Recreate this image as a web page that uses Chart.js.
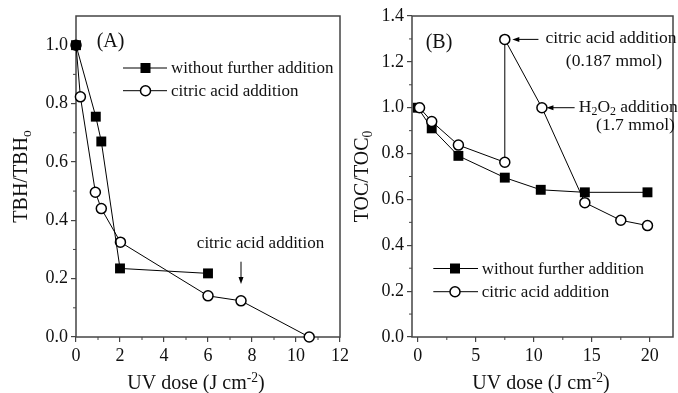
<!DOCTYPE html>
<html>
<head>
<meta charset="utf-8">
<script src="https://cdn.jsdelivr.net/npm/chart.js@4"></script>
<style>
  html, body { margin: 0; padding: 0; background: #fff; }
  #wrap { position: relative; width: 678px; height: 393px; overflow: hidden; background: #fff; }
  canvas { position: absolute; top: 0; }
  #chartA { left: 0; }
  #chartB { left: 340px; }
</style>
</head>
<body>
<div id="wrap">
  <canvas id="chartA" width="360" height="393"></canvas>
  <canvas id="chartB" width="340" height="393"></canvas>
</div>
<script>
// ---- data, panel A (TBH) ----
const seriesNames = ['without further addition', 'citric acid addition'];
const doseA_without = [0, 0.9, 1.15, 2.0, 6.0];
const tbh_without = [1.0, 0.755, 0.67, 0.235, 0.218];
const doseA_citric = [0, 0.2, 0.88, 1.15, 2.02, 6.0, 7.5, 10.6];
const tbh_citric = [1.0, 0.823, 0.496, 0.44, 0.325, 0.141, 0.124, 0.0];
const xTicksA = [0, 2, 4, 6, 8, 10, 12];
const yTicksA = [0.0, 0.2, 0.4, 0.6, 0.8, 1.0];

// ---- data, panel B (TOC) ----
const doseB_without = [0, 1.2, 3.5, 7.5, 10.6, 14.4, 19.8];
const toc_without = [1.0, 0.91, 0.79, 0.695, 0.642, 0.631, 0.631];
const doseB_citric = [0.15, 1.2, 3.5, 7.5, 7.5, 10.7, 14.4, 17.5, 19.8];
const toc_citric = [1.0, 0.94, 0.837, 0.762, 1.298, 1.0, 0.586, 0.509, 0.486];
const xTicksB = [0, 5, 10, 15, 20];
const yTicksB = [0.0, 0.2, 0.4, 0.6, 0.8, 1.0, 1.2, 1.4];

const FONT = "'Liberation Serif', 'Times New Roman', serif";
const INK = '#111';
const AXIS = '#444';

function pts(xs, ys) { return xs.map((x, i) => ({x: x, y: ys[i]})); }

// draw text made of normal / subscript / superscript pieces
function drawRich(ctx, parts, x, y, size, align) {
  let w = 0;
  parts.forEach(p => {
    ctx.font = ((p.sub || p.sup) ? size * 0.68 : size) + 'px ' + FONT;
    w += ctx.measureText(p.t).width;
  });
  let cx = align === 'center' ? x - w / 2 : x;
  ctx.textAlign = 'left';
  parts.forEach(p => {
    const s = (p.sub || p.sup) ? size * 0.68 : size;
    ctx.font = s + 'px ' + FONT;
    const dy = p.sub ? size * 0.22 : (p.sup ? -size * 0.36 : 0);
    ctx.fillText(p.t, cx, y + dy);
    cx += ctx.measureText(p.t).width;
  });
}

function marker(ctx, style, x, y) {
  ctx.beginPath();
  if (style === 'rect') {
    ctx.fillStyle = '#000';
    ctx.fillRect(x - 5, y - 5, 10, 10);
  } else {
    ctx.arc(x, y, 5, 0, Math.PI * 2);
    ctx.fillStyle = '#fff';
    ctx.fill();
    ctx.lineWidth = 1.5;
    ctx.strokeStyle = '#000';
    ctx.stroke();
  }
}

function arrow(ctx, x1, y1, x2, y2) {
  const ang = Math.atan2(y2 - y1, x2 - x1);
  ctx.beginPath();
  ctx.moveTo(x1, y1);
  ctx.lineTo(x2 - 5 * Math.cos(ang), y2 - 5 * Math.sin(ang));
  ctx.lineWidth = 1;
  ctx.strokeStyle = '#000';
  ctx.stroke();
  ctx.beginPath();
  ctx.moveTo(x2, y2);
  ctx.lineTo(x2 - 7 * Math.cos(ang) + 2.5 * Math.sin(ang), y2 - 7 * Math.sin(ang) - 2.5 * Math.cos(ang));
  ctx.lineTo(x2 - 7 * Math.cos(ang) - 2.5 * Math.sin(ang), y2 - 7 * Math.sin(ang) + 2.5 * Math.cos(ang));
  ctx.closePath();
  ctx.fillStyle = '#000';
  ctx.fill();
}

// frame, minor ticks and axis titles
const framePlugin = {
  id: 'frame',
  beforeDatasetsDraw(chart, args, o) {
    const {ctx, chartArea: a, scales: {x, y}} = chart;
    ctx.save();
    ctx.strokeStyle = AXIS;
    ctx.lineWidth = 1.5;
    ctx.strokeRect(a.left, a.top, a.right - a.left, a.bottom - a.top);
    ctx.lineWidth = 1;
    ctx.beginPath();
    o.minorX.forEach(v => { const p = x.getPixelForValue(v); ctx.moveTo(p, a.bottom); ctx.lineTo(p, a.bottom + 3); });
    o.minorY.forEach(v => { const p = y.getPixelForValue(v); ctx.moveTo(a.left, p); ctx.lineTo(a.left - 3, p); });
    ctx.stroke();
    ctx.fillStyle = INK;
    ctx.textBaseline = 'alphabetic';
    drawRich(ctx, o.xTitle, o.xTitleX, o.xTitleY, 20, 'center');
    ctx.translate(o.yTitleX, (a.top + a.bottom) / 2);
    ctx.rotate(-Math.PI / 2);
    drawRich(ctx, o.yTitle, 0, 0, 20, 'center');
    ctx.restore();
  },
  afterDraw(chart, args, o) {
    const {ctx, scales: {x, y}} = chart;
    ctx.save();
    // legend
    const L = o.legend;
    chart.data.datasets.forEach((ds, i) => {
      const ry = L.rows[i];
      ctx.beginPath();
      ctx.moveTo(L.x0, ry); ctx.lineTo(L.x1, ry);
      ctx.lineWidth = 1; ctx.strokeStyle = '#000'; ctx.stroke();
      marker(ctx, ds.pointStyle, L.xm, ry);
      ctx.fillStyle = INK;
      ctx.textBaseline = 'middle';
      ctx.textAlign = 'left';
      ctx.font = '17px ' + FONT;
      ctx.fillText(ds.label, L.xt, ry + 1);
    });
    // notes and arrows
    o.notes.forEach(n => {
      if (n.arrow) {
        arrow(ctx, x.getPixelForValue(n.arrow[0]), y.getPixelForValue(n.arrow[1]),
              x.getPixelForValue(n.arrow[2]), y.getPixelForValue(n.arrow[3]));
      } else {
        ctx.fillStyle = INK;
        ctx.textBaseline = 'middle';
        drawRich(ctx, n.parts, x.getPixelForValue(n.x), y.getPixelForValue(n.y), n.size, n.align);
      }
    });
    ctx.restore();
  }
};

function makeChart(id, xs1, ys1, xs2, ys2, opt) {
  const tickFont = {family: FONT, size: 18};
  return new Chart(document.getElementById(id), {
    type: 'line',
    data: {
      datasets: [
        {label: seriesNames[0], data: pts(xs1, ys1), order: opt.orderSq,
         borderColor: '#000', borderWidth: 1, pointStyle: 'rect', pointRadius: 7,
         pointBackgroundColor: '#000', pointBorderColor: '#000', pointBorderWidth: 0, clip: false},
        {label: seriesNames[1], data: pts(xs2, ys2), order: opt.orderCi,
         borderColor: '#000', borderWidth: 1, pointStyle: 'circle', pointRadius: 5,
         pointBackgroundColor: '#fff', pointBorderColor: '#000', pointBorderWidth: 1.5, clip: false}
      ]
    },
    options: {
      responsive: false,
      animation: false,
      events: [],
      layout: {padding: opt.padding},
      scales: {
        x: {
          type: 'linear', min: opt.xMin, max: opt.xMax,
          afterBuildTicks: s => { s.ticks = opt.xTicks.map(v => ({value: v})); },
          afterFit: s => { s.height = 56; },
          grid: {display: true, drawOnChartArea: false, drawTicks: true, tickLength: 5, color: AXIS, lineWidth: 1.2},
          border: {display: false},
          ticks: {font: tickFont, color: INK, padding: 3, maxRotation: 0, autoSkip: false}
        },
        y: {
          type: 'linear', min: 0, max: opt.yMax,
          afterBuildTicks: s => { s.ticks = opt.yTicks.map(v => ({value: v})); },
          afterFit: s => { s.width = opt.yWidth; },
          grid: {display: true, drawOnChartArea: false, drawTicks: true, tickLength: 5, color: AXIS, lineWidth: 1.2},
          border: {display: false},
          ticks: {font: tickFont, color: INK, padding: 3, callback: v => v.toFixed(1)}
        }
      },
      plugins: {
        legend: {display: false},
        tooltip: {enabled: false},
        frame: opt.frame
      }
    },
    plugins: [framePlugin]
  });
}

makeChart('chartA', doseA_without, tbh_without, doseA_citric, tbh_citric, {
  orderSq: 0, orderCi: 1,
  padding: {top: 16, right: 20, left: 0, bottom: 0},
  xMin: 0, xMax: 12, xTicks: xTicksA, yMax: 1.1, yTicks: yTicksA, yWidth: 76,
  frame: {
    minorX: [1, 3, 5, 7, 9, 11],
    minorY: [0.1, 0.3, 0.5, 0.7, 0.9],
    xTitle: [{t: 'UV dose (J cm'}, {t: '-2', sup: true}, {t: ')'}],
    xTitleX: 196, xTitleY: 389,
    yTitle: [{t: 'TBH/TBH'}, {t: 'o', sub: true}],
    yTitleX: 27,
    legend: {x0: 123, x1: 167, xm: 145.5, xt: 171, rows: [68, 90.7]},
    notes: [
      {parts: [{t: '(A)'}], x: 0.94, y: 1.011, size: 20, align: 'left'},
      {parts: [{t: 'citric acid addition'}], x: 8.39, y: 0.322, size: 17, align: 'center'},
      {arrow: [7.5, 0.258, 7.5, 0.182]}
    ]
  }
});

makeChart('chartB', doseB_without, toc_without, doseB_citric, toc_citric, {
  orderSq: 1, orderCi: 0,
  padding: {top: 16, right: 0, left: 0, bottom: 0},
  xMin: -0.5, xMax: 22, xTicks: xTicksB, yMax: 1.4, yTicks: yTicksB, yWidth: 72,
  frame: {
    minorX: [2.5, 7.5, 12.5, 17.5],
    minorY: [0.1, 0.3, 0.5, 0.7, 0.9, 1.1, 1.3],
    xTitle: [{t: 'UV dose (J cm'}, {t: '-2', sup: true}, {t: ')'}],
    xTitleX: 201, xTitleY: 389,
    yTitle: [{t: 'TOC/TOC'}, {t: '0', sub: true}],
    yTitleX: 28,
    legend: {x0: 93.3, x1: 138, xm: 115, xt: 141.7, rows: [268.5, 291.7]},
    notes: [
      {parts: [{t: '(B)'}], x: 0.675, y: 1.283, size: 20, align: 'left'},
      {parts: [{t: 'citric acid addition'}], x: 11.0, y: 1.303, size: 17.5, align: 'left'},
      {parts: [{t: '(0.187 mmol)'}], x: 12.76, y: 1.2, size: 17.5, align: 'left'},
      {parts: [{t: 'H'}, {t: '2', sub: true}, {t: 'O'}, {t: '2', sub: true}, {t: ' addition'}], x: 13.88, y: 1.0, size: 17.5, align: 'left'},
      {parts: [{t: '(1.7 mmol)'}], x: 15.37, y: 0.925, size: 17.5, align: 'left'},
      {arrow: [10.4, 1.298, 8.15, 1.298]},
      {arrow: [13.52, 1.0, 11.09, 1.0]}
    ]
  }
});
</script>
</body>
</html>
